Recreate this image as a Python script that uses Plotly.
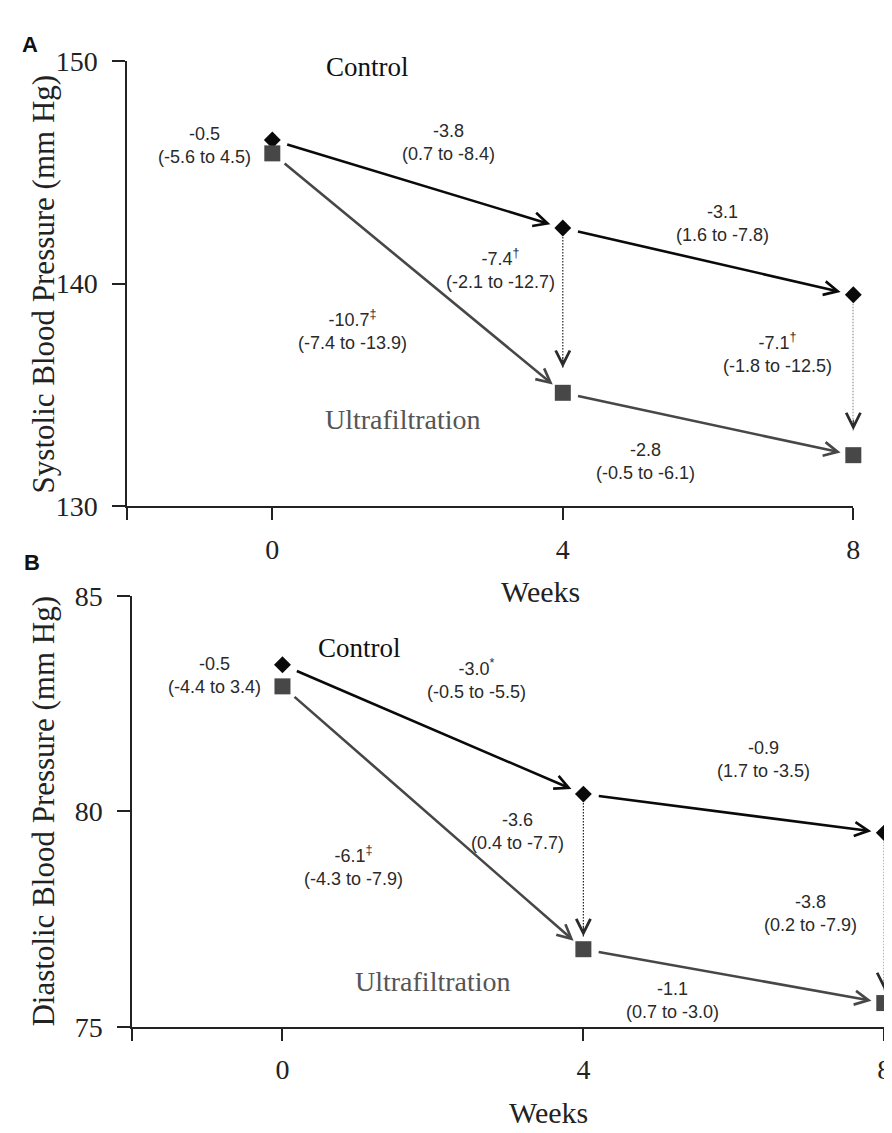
import plotly.graph_objects as go

W, H = 892, 1133

# ---------------- data ----------------
weeks = [0, 4, 8]
week_tick_labels = ["0", "4", "8"]

sbp_control = [146.45, 142.5, 139.5]
sbp_uf = [145.85, 135.1, 132.3]
dbp_control = [83.4, 80.4, 79.5]
dbp_uf = [82.9, 76.8, 75.55]

sbp_ticks = [130, 140, 150]
dbp_ticks = [75, 80, 85]

sbp_labels = [
    "-0.5<br>(-5.6 to 4.5)",
    "-3.8<br>(0.7 to -8.4)",
    "-3.1<br>(1.6 to -7.8)",
    "-7.4<sup>†</sup><br>(-2.1 to -12.7)",
    "-10.7<sup>‡</sup><br>(-7.4 to -13.9)",
    "-7.1<sup>†</sup><br>(-1.8 to -12.5)",
    "-2.8<br>(-0.5 to -6.1)",
]
dbp_labels = [
    "-0.5<br>(-4.4 to 3.4)",
    "-3.0<sup>*</sup><br>(-0.5 to -5.5)",
    "-0.9<br>(1.7 to -3.5)",
    "-3.6<br>(0.4 to -7.7)",
    "-6.1<sup>‡</sup><br>(-4.3 to -7.9)",
    "-3.8<br>(0.2 to -7.9)",
    "-1.1<br>(0.7 to -3.0)",
]
group_names = ["Control", "Ultrafiltration"]

# ---------------- layout positions (data coords) ----------------
sbp_label_pos = [(-0.94, 146.22), (2.43, 146.35), (6.20, 142.71), (3.14, 140.66),
                 (1.11, 137.9), (6.95, 136.9), (5.14, 132.0)]
dbp_label_pos = [(-0.90, 83.15), (2.58, 83.08), (6.40, 81.2), (3.13, 79.54),
                 (0.94, 78.74), (7.02, 77.63), (5.19, 75.6)]
sbp_group_pos = [(1.31, 149.74), (1.80, 133.89)]
dbp_group_pos = [(1.02, 83.8), (2.0, 76.06)]

xdomA = [120 / W, 852 / W]
ydomA = [1 - 497 / H, 1 - 39 / H]
xdomB = [125 / W, 887 / W]
ydomB = [1 - 1032 / H, 1 - 589 / H]
xrangeA = [-2, 8]
xrangeB = [-2, 8.05]

CTRL = "#0a0a0a"
UFC = "#474747"
AXC = "#222222"
SERIF = "Liberation Serif, Times New Roman, serif"
SANS = "Liberation Sans, Arial, sans-serif"

fig = go.Figure()

panels = [
    dict(xa="x", ya="y", ctrl=sbp_control, uf=sbp_uf, labels=sbp_labels, lpos=sbp_label_pos,
         gpos=sbp_group_pos, yr=[130, 150], ydom=ydomA, dot_so=25),
    dict(xa="x2", ya="y2", ctrl=dbp_control, uf=dbp_uf, labels=dbp_labels, lpos=dbp_label_pos,
         gpos=dbp_group_pos, yr=[75, 85], ydom=ydomB, dot_so=13),
]

annotations = []
for p in panels:
    pxu = H * (p["ydom"][1] - p["ydom"][0]) / (p["yr"][1] - p["yr"][0])
    # dotted vertical comparison lines (under markers)
    for i in (1, 2):
        fig.add_trace(go.Scatter(
            x=[weeks[i], weeks[i]], y=[p["ctrl"][i], p["uf"][i] + p["dot_so"] / pxu],
            mode="lines", line=dict(color="#222222", width=1.2, dash="1.5px,1.5px"),
            xaxis=p["xa"], yaxis=p["ya"], showlegend=False, hoverinfo="skip"))
        annotations.append(dict(
            x=weeks[i], y=p["uf"][i], xref=p["xa"], yref=p["ya"], ax=0, ay=-(p["dot_so"] + 12),
            text="", showarrow=True, arrowhead=5, arrowwidth=1, arrowsize=2.8,
            arrowcolor="#2a2a2a", standoff=p["dot_so"]))
    # control diamonds
    fig.add_trace(go.Scatter(
        x=weeks, y=p["ctrl"], mode="markers", name=group_names[0],
        marker=dict(symbol="diamond", size=13, color=CTRL),
        xaxis=p["xa"], yaxis=p["ya"], showlegend=False, cliponaxis=False))
    # UF squares
    fig.add_trace(go.Scatter(
        x=weeks, y=p["uf"], mode="markers", name=group_names[1],
        marker=dict(symbol="square", size=16, color=UFC),
        xaxis=p["xa"], yaxis=p["ya"], showlegend=False, cliponaxis=False))
    # solid arrows between visits
    for series, col in ((p["ctrl"], CTRL), (p["uf"], UFC)):
        for i in range(len(weeks) - 1):
            annotations.append(dict(
                x=weeks[i + 1], y=series[i + 1], ax=weeks[i], ay=series[i],
                xref=p["xa"], yref=p["ya"], axref=p["xa"], ayref=p["ya"],
                text="", showarrow=True, arrowhead=5, arrowsize=1.05, arrowwidth=2.6,
                arrowcolor=col, standoff=13, startstandoff=14))
    # stat labels
    for txt, (lx, ly) in zip(p["labels"], p["lpos"]):
        annotations.append(dict(
            x=lx, y=ly, xref=p["xa"], yref=p["ya"], text=txt, showarrow=False,
            font=dict(family=SANS, size=18, color="#2a2a2a"), align="center",
            xanchor="center", yanchor="middle"))
    # group names
    annotations.append(dict(
        x=p["gpos"][0][0], y=p["gpos"][0][1], xref=p["xa"], yref=p["ya"], text=group_names[0],
        showarrow=False, font=dict(family=SERIF, size=27, color="#111111"),
        xanchor="center", yanchor="middle"))
    annotations.append(dict(
        x=p["gpos"][1][0], y=p["gpos"][1][1], xref=p["xa"], yref=p["ya"], text=group_names[1],
        showarrow=False, font=dict(family=SERIF, size=28, color="#555555"),
        xanchor="center", yanchor="middle"))

# axis titles and panel letters
for txt, x, y in (("Systolic Blood Pressure (mm Hg)", 36, 268),
                  ("Diastolic Blood Pressure (mm Hg)", 36, 810)):
    annotations.append(dict(x=x / W, y=1 - y / H, xref="paper", yref="paper", text=txt,
                            textangle=-90, showarrow=False,
                            font=dict(family=SERIF, size=31, color=AXC),
                            xanchor="center", yanchor="middle"))
for txt, x, y in (("Weeks", 537, 585), ("Weeks", 545, 1120)):
    annotations.append(dict(x=x / W, y=1 - y / H, xref="paper", yref="paper", text=txt,
                            showarrow=False, font=dict(family=SERIF, size=30, color=AXC),
                            xanchor="center", yanchor="middle"))
for txt, x, y in (("A", 22, 22), ("B", 24, 555)):
    annotations.append(dict(x=x / W, y=1 - y / H, xref="paper", yref="paper",
                            text="<b>" + txt + "</b>", showarrow=False,
                            font=dict(family=SANS, size=22, color="#111111"),
                            xanchor="center", yanchor="middle"))


def xaxis_cfg(rng, dom, anchor):
    return dict(
        range=rng, domain=dom, anchor=anchor,
        tickvals=[rng[0]] + weeks, ticktext=[""] + week_tick_labels,
        showline=True, linecolor=AXC, linewidth=1.5, ticks="outside", ticklen=12,
        tickwidth=1.5, tickcolor=AXC, showgrid=False, zeroline=False,
        tickfont=dict(family=SERIF, size=28, color=AXC), ticklabelstandoff=5, fixedrange=True)


yaxis_common = dict(
    showline=True, linecolor=AXC, linewidth=1.5, ticks="outside", ticklen=13,
    tickwidth=1.5, tickcolor=AXC, showgrid=False, zeroline=False,
    tickfont=dict(family=SERIF, size=28, color=AXC), ticklabelstandoff=9, fixedrange=True)

fig.update_layout(
    width=W, height=H, margin=dict(l=0, r=0, t=0, b=0),
    paper_bgcolor="white", plot_bgcolor="white", showlegend=False,
    xaxis=xaxis_cfg(xrangeA, xdomA, "y"),
    yaxis=dict(**yaxis_common, domain=ydomA, anchor="x", range=[130, 150], tickvals=sbp_ticks),
    xaxis2=xaxis_cfg(xrangeB, xdomB, "y2"),
    yaxis2=dict(**yaxis_common, domain=ydomB, anchor="x2", range=[75, 85], tickvals=dbp_ticks),
    annotations=annotations,
)

fig.write_html("out.html")
